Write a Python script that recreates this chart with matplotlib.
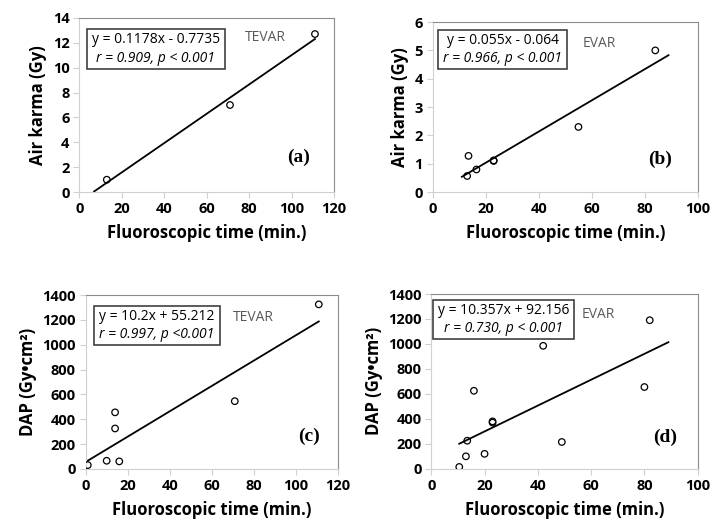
import numpy as np
import matplotlib
matplotlib.use('Agg')
import matplotlib.pyplot as plt
from matplotlib.patches import Rectangle
from matplotlib.transforms import Bbox

plt.rcParams['font.family'] = ['Open Sans', 'DejaVu Sans']

# (a) TEVAR air karma
a_time = [13, 71, 111]
a_val = [1.0, 7.0, 12.7]
# (b) EVAR air karma
b_time = [13, 13.5, 16.5, 23, 23, 55, 84]
b_val = [0.57, 1.28, 0.8, 1.12, 1.1, 2.3, 5.0]
# (c) TEVAR DAP
c_time = [1, 10, 14, 14, 16, 71, 111]
c_val = [30, 65, 455, 325, 60, 545, 1325]
# (d) EVAR DAP
d_time = [10.5, 13, 13.5, 16, 20, 23, 23, 42, 49, 80, 82]
d_val = [15, 100, 225, 625, 120, 380, 370, 985, 215, 655, 1190]

panels = [
    dict(x=a_time, y=a_val, slope=0.1178, icpt=-0.7735, fit=(7, 111),
         eq='y = 0.1178x - 0.7735', stat='r = 0.909, p < 0.001', grp='TEVAR', tag='(a)',
         xlim=(0, 120), xstep=20, ylim=(0, 14), ystep=2, ylabel='Air karma (Gy)',
         rect=[0.110, 0.634, 0.354, 0.332], box=(0.30, 0.82), grp_xy=(0.65, 0.885), tag_xy=(0.86, 0.20)),
    dict(x=b_time, y=b_val, slope=0.055, icpt=-0.064, fit=(11, 89),
         eq='y = 0.055x - 0.064', stat='r = 0.966, p < 0.001', grp='EVAR', tag='(b)',
         xlim=(0, 100), xstep=20, ylim=(0, 6), ystep=1, ylabel='Air karma (Gy)',
         rect=[0.601, 0.634, 0.368, 0.324], box=(0.265, 0.84), grp_xy=(0.566, 0.875), tag_xy=(0.857, 0.19)),
    dict(x=c_time, y=c_val, slope=10.2, icpt=55.212, fit=(1, 111),
         eq='y = 10.2x + 55.212', stat='r = 0.997, p <0.001', grp='TEVAR', tag='(c)',
         xlim=(0, 120), xstep=20, ylim=(0, 1400), ystep=200, ylabel='DAP (Gy\u2022cm\u00b2)',
         rect=[0.119, 0.107, 0.350, 0.331], box=(0.283, 0.825), grp_xy=(0.585, 0.87), tag_xy=(0.885, 0.185)),
    dict(x=d_time, y=d_val, slope=10.357, icpt=92.156, fit=(10.5, 89),
         eq='y = 10.357x + 92.156', stat='r = 0.730, p < 0.001', grp='EVAR', tag='(d)',
         xlim=(0, 100), xstep=20, ylim=(0, 1400), ystep=200, ylabel='DAP (Gy\u2022cm\u00b2)',
         rect=[0.599, 0.107, 0.370, 0.333], box=(0.27, 0.855), grp_xy=(0.565, 0.88), tag_xy=(0.877, 0.18)),
]

fig = plt.figure(figsize=(7.2, 5.25), dpi=100)
boxes = []

for p in panels:
    ax = fig.add_axes(p['rect'])
    ax.scatter(p['x'], p['y'], s=22, facecolors='none', edgecolors='black', linewidths=0.9, zorder=3)
    xf = np.array(p['fit'])
    ax.plot(xf, p['slope'] * xf + p['icpt'], color='black', lw=1.3)

    ax.set_xlim(*p['xlim'])
    ax.set_ylim(*p['ylim'])
    ax.set_xticks(np.arange(p['xlim'][0], p['xlim'][1] + 1, p['xstep']))
    ax.set_yticks(np.arange(p['ylim'][0], p['ylim'][1] + 0.001, p['ystep']))
    ax.tick_params(labelsize=10.5, length=4, color='#d0d0d0', width=0.8, pad=3)
    for lab in ax.get_xticklabels() + ax.get_yticklabels():
        lab.set_fontweight('bold')
    for s in ['left', 'bottom']:
        ax.spines[s].set_color('#d0d0d0')
    for s in ['top', 'right']:
        ax.spines[s].set_color('#8c8c8c')
    ax.set_xlabel('Fluoroscopic time (min.)', fontsize=12, fontweight='bold', labelpad=6)
    ax.set_ylabel(p['ylabel'], fontsize=12, fontweight='bold', labelpad=4)

    # regression equation (upper line) and statistics (lower line, italic)
    bx, by = p['box']
    t1 = ax.text(bx, by + 0.01, p['eq'], transform=ax.transAxes, fontsize=10,
                 va='bottom', ha='center', zorder=5)
    t2 = ax.text(bx, by - 0.01, p['stat'], transform=ax.transAxes, fontsize=10,
                 va='top', ha='center', style='italic', zorder=5)
    boxes.append((ax, t1, t2))

    ax.text(*p['grp_xy'], p['grp'], transform=ax.transAxes, fontsize=10, color='#595959',
            va='center', ha='left')
    ax.text(*p['tag_xy'], p['tag'], transform=ax.transAxes, fontsize=14, fontweight='bold',
            family='Liberation Serif', va='center', ha='center')

# frame round each equation block, sized from the rendered text
fig.canvas.draw()
r = fig.canvas.get_renderer()
for ax, t1, t2 in boxes:
    bb = Bbox.union([t1.get_window_extent(r), t2.get_window_extent(r)])
    padx, pady = 5, 3
    (x0, y0), (x1, y1) = ax.transAxes.inverted().transform(
        [(bb.x0 - padx, bb.y0 - pady), (bb.x1 + padx, bb.y1 + pady)])
    ax.add_patch(Rectangle((x0, y0), x1 - x0, y1 - y0, transform=ax.transAxes,
                           fc='white', ec='#404040', lw=1.2, zorder=4))

fig.savefig('out.png', dpi=100)
